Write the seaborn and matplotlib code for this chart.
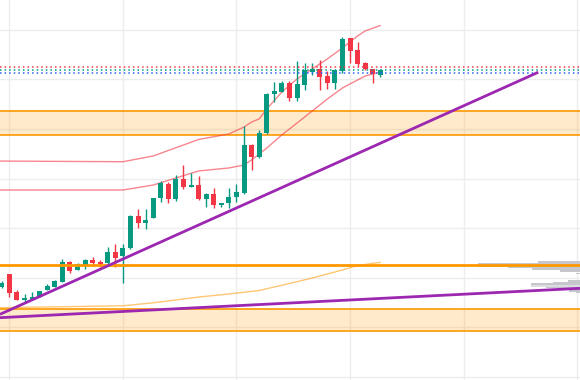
import matplotlib
matplotlib.use("Agg")
import numpy as np
import pandas as pd
import seaborn as sns
from matplotlib import pyplot as plt

# candles (price units; gridlines every 5)
opens = [109.04, 110.35, 108.54, 107.79, 107.89, 108.03, 108.77, 109.10, 109.61, 111.59,
         110.79, 111.26, 111.79, 111.62, 111.46, 112.60, 112.23, 112.97, 116.23, 115.55,
         116.06, 118.04, 119.46, 117.97, 119.96, 119.18, 119.35, 117.97, 118.45, 117.31,
         117.51, 118.11, 118.52, 123.39, 122.21, 124.57, 128.50, 128.76, 129.67, 128.16,
         129.44, 130.78, 131.05, 130.34, 129.67, 130.88, 134.14, 132.96, 131.68, 131.03,
         130.47]
highs = [109.68, 110.35, 108.77, 108.34, 108.57, 108.70, 109.41, 109.73, 111.87, 111.69,
         111.52, 111.85, 112.13, 111.82, 113.14, 113.41, 113.41, 116.33, 116.94, 116.94,
         118.09, 119.73, 119.66, 120.33, 121.37, 120.53, 120.29, 118.50, 119.05, 117.59,
         119.05, 119.46, 125.30, 123.44, 124.90, 128.58, 129.77, 129.84, 129.87, 131.89,
         131.62, 131.65, 131.96, 130.80, 130.95, 134.30, 134.17, 133.77, 131.78, 131.05,
         131.00]
lows = [108.97, 108.09, 107.76, 107.59, 107.86, 108.03, 108.77, 109.07, 109.58, 110.45,
        110.74, 110.89, 111.16, 111.12, 111.44, 111.12, 109.48, 112.90, 114.99, 114.92,
        116.03, 117.64, 117.57, 117.77, 118.92, 119.15, 117.89, 117.17, 117.04, 117.17,
        117.01, 117.67, 118.45, 120.87, 122.08, 124.50, 127.72, 128.73, 127.85, 127.85,
        128.90, 130.44, 128.93, 129.03, 129.03, 130.68, 131.70, 131.30, 130.95, 129.61,
        130.19]
closes = [109.45, 108.44, 107.79, 107.99, 108.09, 108.64, 109.20, 109.68, 111.62, 110.72,
          111.36, 111.79, 111.52, 111.36, 112.60, 112.03, 113.00, 116.23, 115.49, 115.83,
          118.04, 119.53, 117.97, 119.96, 119.18, 119.35, 117.91, 118.45, 117.34, 117.54,
          118.11, 118.65, 123.39, 122.21, 124.57, 128.50, 128.83, 129.67, 128.16, 129.54,
          130.92, 131.05, 130.27, 129.67, 130.92, 134.10, 132.89, 131.55, 131.00, 130.51,
          130.95]

# envelope bands (upper / lower) and slow average
band_up_x = [-1, 16, 20, 26, 30, 32, 33, 34, 35, 37, 39, 41, 43, 45, 46, 47, 48, 50]
band_up = [121.77, 121.70, 122.28, 123.94, 124.50, 125.20, 125.71, 126.01, 127.02, 128.73,
           130.04, 131.05, 132.06, 133.17, 133.77, 134.38, 134.88, 135.43]
band_lo_x = [-1, 16, 20, 26, 30, 32, 33, 35, 37, 39, 41, 43, 45, 46, 48, 50]
band_lo = [118.85, 118.85, 119.35, 120.77, 121.07, 121.37, 121.88, 123.08, 124.40, 125.60,
           126.81, 128.02, 129.13, 129.54, 130.34, 130.75]
ma_x = [-1, 16, 20, 26, 30, 34, 39, 41, 45, 47, 50]
ma = [106.98, 107.18, 107.48, 108.06, 108.37, 108.72, 109.61, 109.98, 110.79, 111.24, 111.56]

# price levels
last_levels = [131.22, 130.92, 130.63]   # red, green, blue dotted
zones = [(124.37, 126.78), (104.64, 106.82)]
support = 111.32

# trend lines (start, end)
trend_steep = ([-0.24, 70.87], [106.32, 130.72])
trend_flat = ([-0.24, 76.38], [105.98, 108.94])

# volume profile rows
vp_price = [111.57, 111.37, 111.20, 111.04, 110.87, 110.71, 110.43,
            109.70, 109.53, 109.35, 109.19, 109.02, 108.85, 108.69, 108.52]
vp_vol = [5.55, 13.47, 13.47, 9.51, 6.34, 2.64, 0.53,
          1.59, 3.57, 6.47, 6.47, 4.49, 2.64, 1.45, 0.53]

GREEN, RED, BLUE = "#089981", "#f23645", "#2962ff"
ORANGE, PURPLE = "#ff9800", "#9c27b0"

sns.set_style("white")
fig = plt.figure(figsize=(5.8, 3.8), dpi=100)
ax = fig.add_axes([0, 0, 1, 1])
x_lo, x_hi = -0.238, 76.38
ax.set_xlim(x_lo, x_hi)
ax.set_ylim(99.70, 138.0)

ax.set_xticks(range(1, 77, 15))
ax.set_yticks(range(100, 140, 5))
ax.grid(True, color="#ededed", lw=1)
ax.tick_params(length=0, labelbottom=False, labelleft=False)
for s in ax.spines.values():
    s.set_visible(False)
ax.set_axisbelow(True)

for lo, hi in zones:
    ax.axhspan(lo, hi, color=ORANGE, alpha=0.2, lw=0, zorder=1)
    ax.axhline(lo, color=ORANGE, lw=1.2, zorder=2)
    ax.axhline(hi, color=ORANGE, lw=1.2, zorder=2)

# volume profile on the right edge
vp = pd.DataFrame({"price": vp_price, "vol": vp_vol})
vp_col = ["#c5c7cd"] * len(vp)
vp_col[10] = "#dcdde1"
ax.barh(vp["price"], vp["vol"], left=x_hi - vp["vol"], height=0.17,
        color=vp_col, lw=0, zorder=2)

sns.lineplot(x=band_up_x, y=band_up, ax=ax, color=RED, alpha=0.6, lw=1, zorder=3)
sns.lineplot(x=band_lo_x, y=band_lo, ax=ax, color=RED, alpha=0.6, lw=1, zorder=3)
sns.lineplot(x=ma_x, y=ma, ax=ax, color=ORANGE, alpha=0.55, lw=1, zorder=3)

df = pd.DataFrame({"open": opens, "high": highs, "low": lows, "close": closes})
df["x"] = np.arange(len(df))
up = df["close"] >= df["open"]
colors = np.where(up, GREEN, RED)
body_lo = df[["open", "close"]].min(axis=1)
body_h = (df["close"] - df["open"]).abs().clip(lower=0.12)
ax.vlines(df["x"], df["low"], df["high"], colors=colors, lw=1, zorder=4)
ax.bar(df["x"], body_h, bottom=body_lo, width=0.66, color=colors, lw=0, zorder=5)

ax.axhline(support, color=ORANGE, lw=2, zorder=6)
for lvl, c in zip(last_levels, [RED, GREEN, BLUE]):
    ax.axhline(lvl, color=c, lw=1.1, ls=(0, (1, 2)), zorder=6)

ax.plot(*trend_steep, color=PURPLE, lw=2, solid_capstyle="butt", zorder=7)
ax.plot(*trend_flat, color=PURPLE, lw=2, solid_capstyle="butt", zorder=7)

fig.savefig("out.png", dpi=100)
